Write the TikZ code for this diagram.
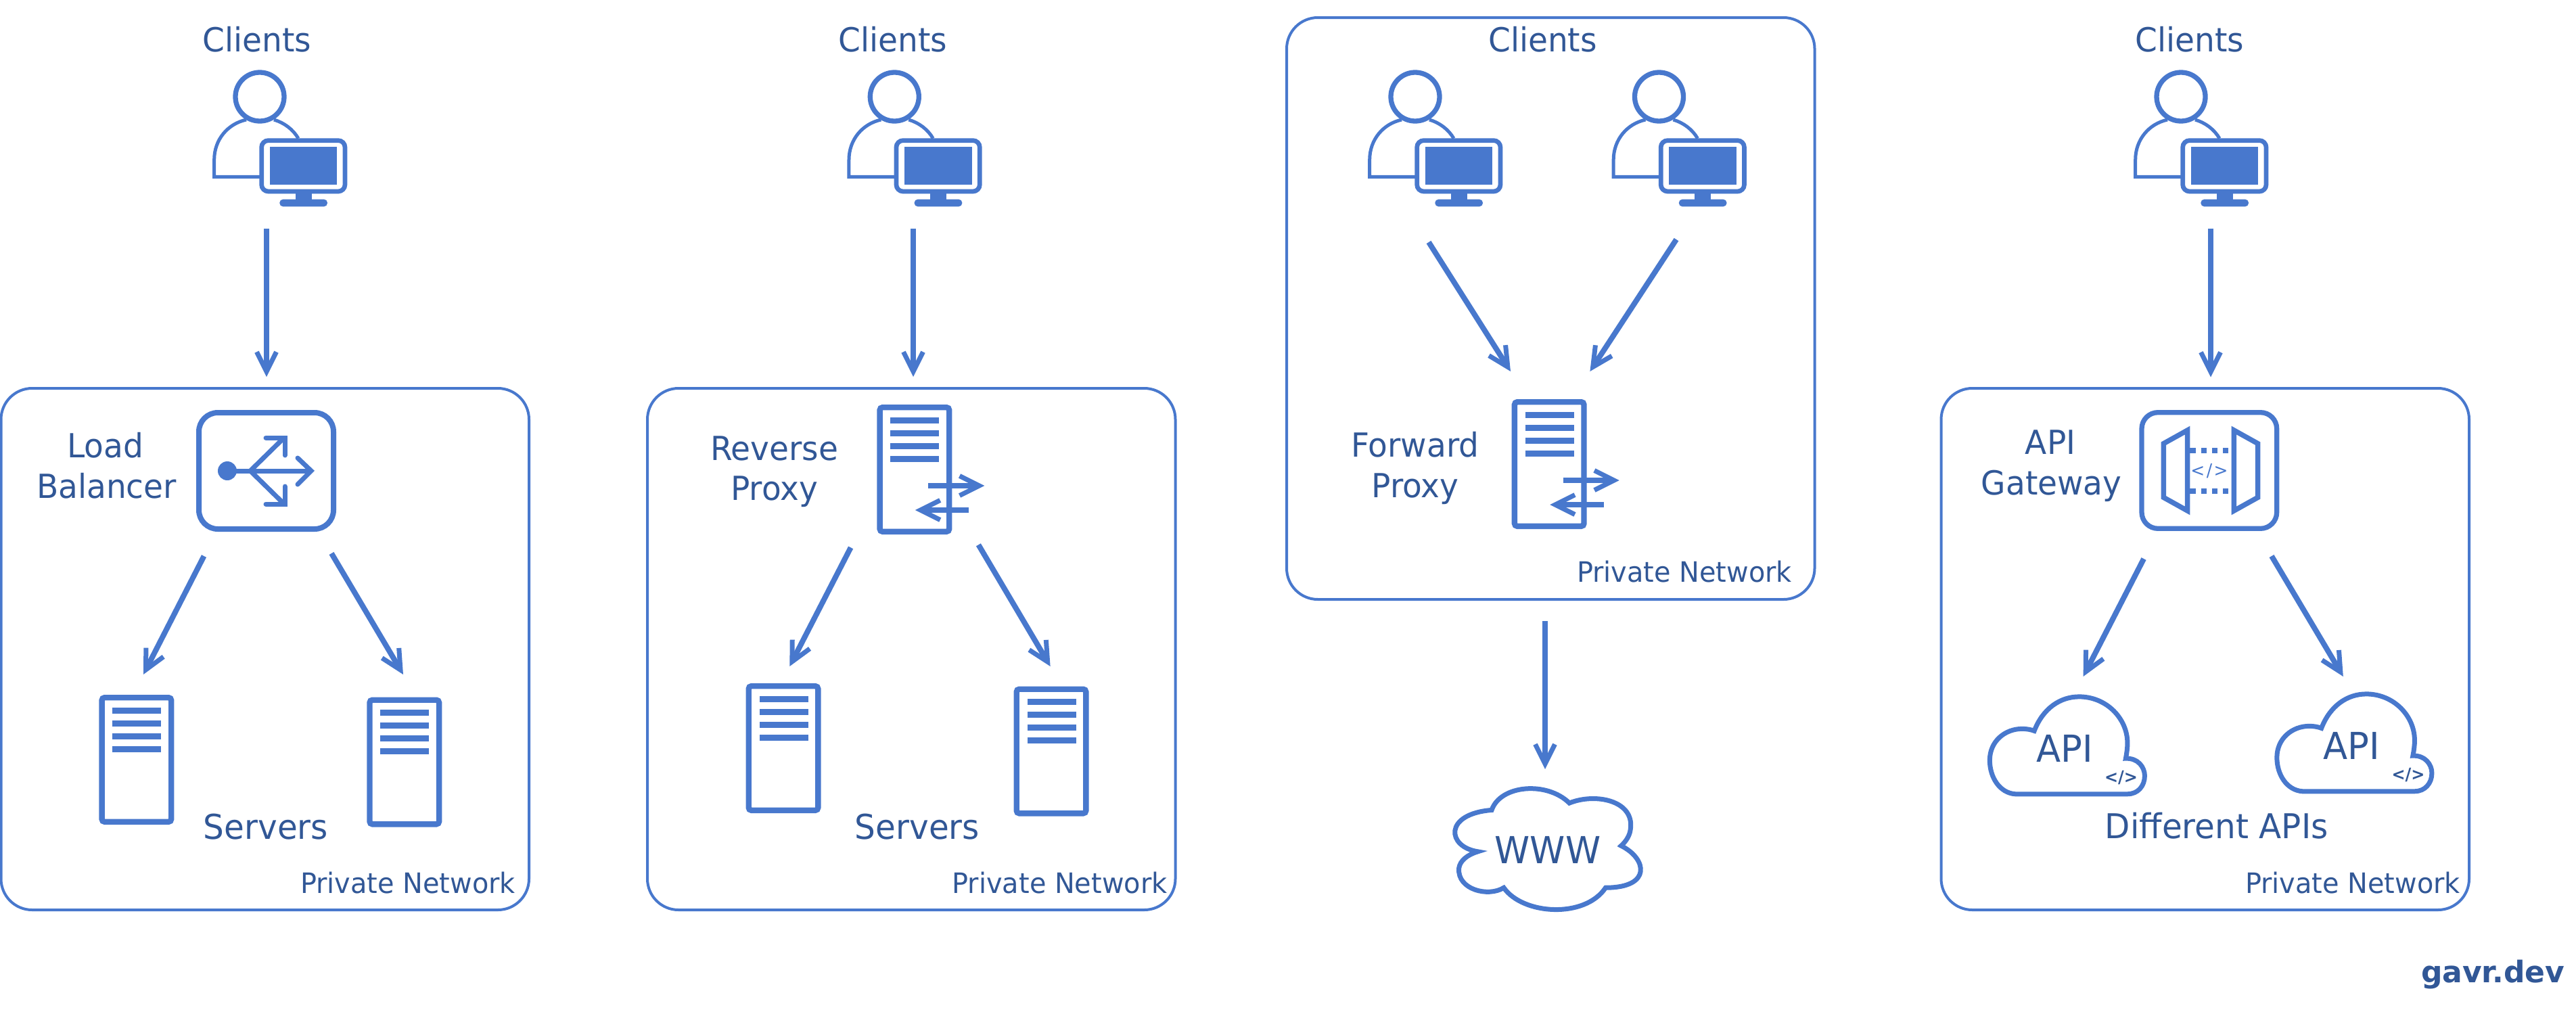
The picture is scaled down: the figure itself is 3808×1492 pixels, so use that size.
\documentclass[tikz,border=0pt]{standalone}
\usepackage{fontspec}
\setmainfont[FakeStretch=0.96]{DejaVu Sans}
\newfontfamily\creditfont{DejaVu Sans}
\usetikzlibrary{arrows.meta}
\definecolor{lineblue}{HTML}{4878CD}
\definecolor{txtblue}{HTML}{315796}
\tikzset{
  lbl/.style={inner sep=0pt, outer sep=0pt, anchor=base, text=txtblue, font=\fontsize{49}{56}\selectfont},
  biglbl/.style={lbl, font=\fontsize{50.5}{60}\selectfont},
  cloudlbl/.style={lbl, font=\fontsize{55}{60}\selectfont},
  codelbl/.style={lbl, font=\bfseries\fontsize{25}{28}\selectfont},
  netlbl/.style={inner sep=0pt, outer sep=0pt, anchor=base east, text=txtblue, font=\fontsize{41.5}{50}\selectfont},
  netbox/.style={draw=lineblue, line width=4pt, rounded corners=46pt, inner sep=0pt, outer sep=0pt, anchor=north west, minimum width=780.5pt, minimum height=771pt},
  flow/.style={draw=lineblue, line width=8pt, -{Straight Barb[length=29pt,width=29pt,line width=7pt]}},
  clientpic/.pic={
    \begin{scope}[shift={(-94,-53.33)},x=0.3333pt,y=-0.3333pt]
      \draw[lineblue,line width=5pt] (222,262) .. controls (140,280) and (80,350) .. (80,440) -- (80,515) -- (285,515);
      \draw[lineblue,line width=5pt] (345,262) .. controls (390,275) and (430,305) .. (453,345);
      \draw[lineblue,line width=7.3pt] (282,160) circle[radius=36pt];
      \draw[lineblue,fill=white,line width=6.7pt,rounded corners=10pt] (290,354) rectangle (660,580);
      \fill[lineblue] (326,383) rectangle (625,550);
      \fill[lineblue] (440,585) rectangle (512,620);
      \fill[lineblue,rounded corners=5pt] (370,615) rectangle (582,647);
    \end{scope}
  },
  serverpic/.pic={
    \draw[lineblue,fill=white,line width=8.4pt,rounded corners=4pt] (4.2,4.2) rectangle (106.8,187.8);
    \foreach \yy in {23.3,42,61,80}{
      \fill[lineblue] (20,\yy-4.5) rectangle (92,\yy+4.5);
    }
  },
  proxypic/.pic={
    \draw[lineblue,fill=white,line width=8.4pt,rounded corners=4pt] (4.2,4.2) rectangle (106.8,187.8);
    \foreach \yy in {23.3,42,61,80}{
      \fill[lineblue] (20,\yy-4.5) rectangle (92,\yy+4.5);
    }
    \draw[flow] (76,120) -- (159,120);
    \draw[flow] (136,156) -- (56.5,156);
  },
  lbpic/.pic={
    \draw[lineblue,line width=8pt,rounded corners=28pt] (4,4) rectangle (203,176);
    \fill[lineblue] (46,90) circle[radius=14pt];
    \draw[lineblue,line width=7pt,line cap=round] (46,90) -- (168,90);
    \draw[lineblue,line width=7pt,line cap=round,line join=miter] (150,71) -- (170,90) -- (150,110);
    \draw[lineblue,line width=7pt] (80,90) -- (130,41);
    \draw[lineblue,line width=7pt] (80,90) -- (130,139);
    \draw[lineblue,line width=7pt,line cap=round,line join=miter] (103,41) -- (131,41) -- (131,67);
    \draw[lineblue,line width=7pt,line cap=round,line join=miter] (103,139) -- (131,139) -- (131,113);
  },
  gatewaypic/.pic={
    \begin{scope}[x=0.3333pt,y=-0.3333pt]
      \draw[lineblue,line width=7.3pt,rounded corners=24pt] (198,29) rectangle (797,544);
      \draw[lineblue,line width=7.5pt,line join=miter] (295,167) -- (401,108) -- (401,465) -- (295,406) -- cycle;
      \draw[lineblue,line width=7.5pt,line join=miter] (607,108) -- (713,167) -- (713,406) -- (607,465) -- cycle;
      \foreach \yy in {197,377}{
        \fill[lineblue] (412,\yy-12) rectangle (438,\yy+12);
        \fill[lineblue] (463,\yy-12) rectangle (487,\yy+12);
        \fill[lineblue] (510,\yy-12) rectangle (534,\yy+12);
        \fill[lineblue] (558,\yy-12) rectangle (582,\yy+12);
      }
      \node[inner sep=0pt,anchor=base,text=lineblue,font=\fontsize{26}{28}\selectfont] (code) at (498,314) {<\kern2.5pt/\kern2.5pt>};
    \end{scope}
  },
  apipic/.pic={
    \draw[lineblue,fill=white,line width=7pt,line join=miter] (210,1020) .. controls (235,955) and (285,921) .. (340,921) .. controls (420,921) and (480,985) .. (480,1055) .. controls (480,1070) and (478,1085) .. (475,1100) .. controls (510,1098) and (530,1125) .. (530,1150) .. controls (530,1180) and (510,1203) .. (480,1203) -- (155,1203) .. controls (110,1200) and (81,1155) .. (81,1105) .. controls (81,1050) and (125,1014) .. (175,1014) .. controls (187,1014) and (200,1016) .. (210,1020) -- cycle;
  },
  wwwpic/.pic={
    \draw[lineblue,line width=7pt,line join=miter] (500,1215) .. controls (525,1150) and (660,1140) .. (725,1197) .. controls (800,1170) and (915,1190) .. (902,1265) .. controls (900,1280) and (890,1295) .. (875,1307) .. controls (950,1340) and (965,1415) .. (830,1415) .. controls (770,1495) and (590,1485) .. (535,1415) .. controls (490,1440) and (400,1420) .. (405,1365) .. controls (408,1345) and (430,1330) .. (460,1322) .. controls (370,1310) and (360,1225) .. (500,1215) -- cycle;
  }
}
\begin{document}
\begin{tikzpicture}[x=1pt,y=-1pt]
\useasboundingbox (0,0) rectangle (3808,1492);

% private-network boxes
\node[netbox] (net1) at (1.5,574) {};
\node[netbox] (net2) at (957,574) {};
\node[netbox,minimum height=860pt] (net3) at (1902,26) {};
\node[netbox] (net4) at (2869.5,574) {};

% column 1: load balancer
\node[lbl] (clientsA) at (380,76) {Clients};
\pic (clientA) at (384,143) {clientpic};
\pic (lb) at (290,606) {lbpic};
\node[lbl] (lbA) at (156,676) {Load};
\node[lbl] (lbB) at (157.5,736) {Balancer};
\pic (srvA1) at (146.4,1027) {serverpic};
\pic (srvA2) at (542.3,1030.5) {serverpic};
\node[biglbl] (serversA) at (393,1240) {Servers};
\node[netlbl] (netA) at (762,1320) {Private Network};
\coordinate (a0s) at (394,338);
\coordinate (a0e) at (394,557);
\coordinate (a1s) at (301.5,822);
\coordinate (a1e) at (212,997);
\coordinate (a2s) at (490,818);
\coordinate (a2e) at (596,997);
\draw[flow] (a0s) -- (a0e);
\draw[flow] (a1s) -- (a1e);
\draw[flow] (a2s) -- (a2e);

% column 2: reverse proxy
\node[lbl] (clientsB) at (1320,76) {Clients};
\pic (clientB) at (1322.3,143) {clientpic};
\pic (rp) at (1296.4,598) {proxypic};
\node[lbl] (rpA) at (1144.6,680) {Reverse};
\node[lbl] (rpB) at (1144.6,739) {Proxy};
\pic (srvB1) at (1102.5,1010) {serverpic};
\pic (srvB2) at (1498.5,1014.5) {serverpic};
\node[biglbl] (serversB) at (1356,1240) {Servers};
\node[netlbl] (netB) at (1725.5,1320) {Private Network};
\coordinate (b0s) at (1350,338);
\coordinate (b0e) at (1350,557);
\coordinate (b1s) at (1257.6,809.4);
\coordinate (b1e) at (1167.3,985);
\coordinate (b2s) at (1446.4,805.3);
\coordinate (b2e) at (1552.6,985);
\draw[flow] (b0s) -- (b0e);
\draw[flow] (b1s) -- (b1e);
\draw[flow] (b2s) -- (b2e);

% column 3: forward proxy
\node[lbl] (clientsC) at (2280.5,76) {Clients};
\pic (clientC1) at (2092,143) {clientpic};
\pic (clientC2) at (2452.5,143) {clientpic};
\pic (fp) at (2234.7,590) {proxypic};
\node[lbl] (fpA) at (2092,675.7) {Forward};
\node[lbl] (fpB) at (2092,735) {Proxy};
\node[netlbl] (netC) at (2649,860.5) {Private Network};
\coordinate (c1s) at (2112,358);
\coordinate (c1e) at (2233,549);
\coordinate (c2s) at (2478,354);
\coordinate (c2e) at (2350.4,549);
\coordinate (c3s) at (2284,918);
\coordinate (c3e) at (2284,1137);
\draw[flow] (c1s) -- (c1e);
\draw[flow] (c2s) -- (c2e);
\draw[flow] (c3s) -- (c3e);
\begin{scope}[shift={(1950,500)},x=0.5102pt,y=-0.574pt]
  \pic (www) at (0,0) {wwwpic};
\end{scope}
\node[cloudlbl] (wwwtxt) at (2288,1276) {WWW};

% column 4: api gateway
\node[lbl] (clientsD) at (3236.7,76) {Clients};
\pic (clientD) at (3224,143) {clientpic};
\pic (gw) at (3100,600) {gatewaypic};
\node[lbl] (gwA) at (3031,671) {API};
\node[lbl] (gwB) at (3032.6,731) {Gateway};
\begin{scope}[shift={(2900,560)},x=0.5102pt,y=-0.5102pt]
  \pic (cloud1) at (0,0) {apipic};
\end{scope}
\begin{scope}[shift={(3324.5,556)},x=0.5102pt,y=-0.5102pt]
  \pic (cloud2) at (0,0) {apipic};
\end{scope}
\node[cloudlbl] (api1) at (3052,1126) {API};
\node[cloudlbl] (api2) at (3476,1122) {API};
\node[codelbl] (code1) at (3135.5,1157) {</>};
\node[codelbl] (code2) at (3560,1153) {</>};
\node[biglbl] (diff) at (3276.8,1239.6) {Different APIs};
\node[netlbl] (netD) at (3637,1320) {Private Network};
\coordinate (d0s) at (3268,337.5);
\coordinate (d0e) at (3268,557.5);
\coordinate (d1s) at (3169,826);
\coordinate (d1e) at (3079.6,1000);
\coordinate (d2s) at (3358,822);
\coordinate (d2e) at (3463.8,1000);
\draw[flow] (d0s) -- (d0e);
\draw[flow] (d1s) -- (d1e);
\draw[flow] (d2s) -- (d2e);

% credit
\node[lbl,anchor=base east,font=\creditfont\bfseries\fontsize{44}{50}\selectfont] (credit) at (3791,1452) {gavr.dev};
\end{tikzpicture}
\end{document}
